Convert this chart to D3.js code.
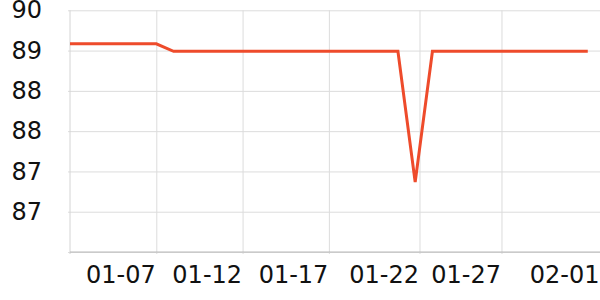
<!DOCTYPE html>
<html>
<head>
<meta charset="utf-8">
<script src="https://cdn.jsdelivr.net/npm/d3@7"></script>
<style>
  body { margin: 0; background: #fff; }
  svg { display: block; }
  .tick text { font-family: "DejaVu Sans", sans-serif; font-size: 24px; fill: #111; }
</style>
</head>
<body>
<div id="chart"></div>
<script>
// line chart, daily values
let dates = ["2024-01-02", "2024-01-03", "2024-01-04", "2024-01-05", "2024-01-06", "2024-01-07",
  "2024-01-08", "2024-01-09", "2024-01-10", "2024-01-11", "2024-01-12", "2024-01-13", "2024-01-14",
  "2024-01-15", "2024-01-16", "2024-01-17", "2024-01-18", "2024-01-19", "2024-01-20", "2024-01-21",
  "2024-01-22", "2024-01-23", "2024-01-24", "2024-01-25", "2024-01-26", "2024-01-27", "2024-01-28",
  "2024-01-29", "2024-01-30", "2024-01-31", "2024-02-01"];
let values = [89.5, 89.5, 89.5, 89.5, 89.5, 89.5,
  89.39, 89.39, 89.39, 89.39, 89.39, 89.39, 89.39,
  89.39, 89.39, 89.39, 89.39, 89.39, 89.39, 89.39,
  87.44, 89.39, 89.39, 89.39, 89.39, 89.39, 89.39,
  89.39, 89.39, 89.39, 89.39];
let xDomain = ["2024-01-02T00:00", "2024-02-01T17:00"];
let xTicks = ["2024-01-07T00:00", "2024-01-12T00:00", "2024-01-17T00:00", "2024-01-22T06:00",
  "2024-01-27T00:00", "2024-02-01T17:00"];
let yDomain = [86.4, 90];
let yTicks = [86.4, 87.0, 87.6, 88.2, 88.8, 89.4, 90.0];

let svgWidth = 600;
let svgHeight = 300;
let margin = { top: 10.3, right: 0, bottom: 48, left: 70 };
let width = svgWidth - margin.left - margin.right;
let height = svgHeight - margin.top - margin.bottom;

let parse = d3.isoParse;
let data = dates.map((d, i) => ({ date: parse(d), value: values[i] }));

let svg = d3.select("#chart").append("svg")
  .attr("width", svgWidth)
  .attr("height", svgHeight);

let chartGroup = svg.append("g")
  .attr("transform", `translate(${margin.left}, ${margin.top})`);

let xScale = d3.scaleTime().domain(xDomain.map(parse)).range([0, width]);
let yScale = d3.scaleLinear().domain(yDomain).range([height, 0]);

// horizontal grid + y labels
let yAxis = d3.axisLeft(yScale)
  .tickValues(yTicks)
  .tickSize(-width)
  .tickFormat(d => d === yDomain[0] ? "" : Math.floor(d + 1e-9));

let yG = chartGroup.append("g").call(yAxis);
yG.select(".domain").remove();
yG.selectAll(".tick line").attr("stroke", "#dcdcdc").attr("x1", -2);
yG.selectAll(".tick text").attr("x", -28);

// vertical grid + x labels
let fmt = d3.timeFormat("%m-%d");
let xAxis = d3.axisBottom(xScale)
  .tickValues(xTicks.map(parse))
  .tickSize(-height)
  .tickFormat(d => fmt(d));

let xG = chartGroup.append("g")
  .attr("transform", `translate(0, ${height})`)
  .call(xAxis);
xG.select(".domain").remove();
xG.selectAll(".tick line").attr("stroke", "#dcdcdc").attr("y1", 2);
xG.selectAll(".tick text")
  .attr("text-anchor", "end")
  .attr("dy", null)
  .attr("y", 31)
  .attr("x", -1);

// left axis line
chartGroup.append("line")
  .attr("x1", 0).attr("x2", 0)
  .attr("y1", 0).attr("y2", height + 2)
  .attr("stroke", "#d4d4d4");

// bottom axis line
chartGroup.append("line")
  .attr("x1", 0).attr("x2", width)
  .attr("y1", height).attr("y2", height)
  .attr("stroke", "#b8b8b8");

let line = d3.line()
  .x(d => xScale(d.date))
  .y(d => yScale(d.value));

chartGroup.append("path")
  .datum(data)
  .attr("fill", "none")
  .attr("stroke", "#ee4b2b")
  .attr("stroke-width", 3)
  .attr("stroke-linejoin", "miter")
  .attr("d", line);
</script>
</body>
</html>
